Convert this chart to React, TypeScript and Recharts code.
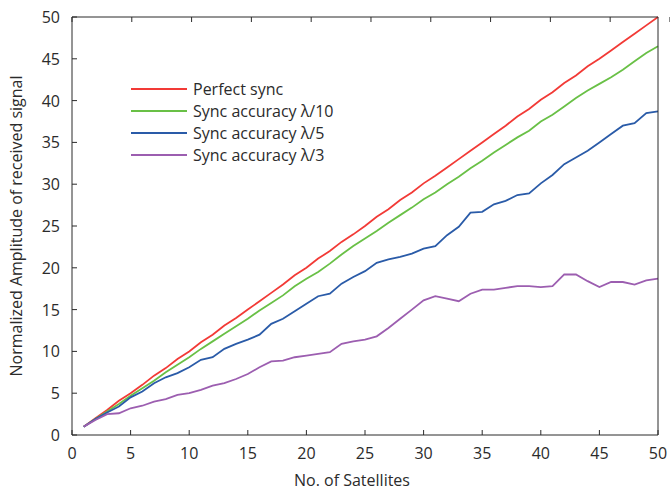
import { LineChart, Line, XAxis, YAxis, Legend } from 'recharts';

const satellites = [
  1, 2, 3, 4, 5, 6, 7, 8, 9, 10, 11, 12, 13, 14, 15, 16, 17, 18, 19, 20, 21, 22, 23, 24, 25,
  26, 27, 28, 29, 30, 31, 32, 33, 34, 35, 36, 37, 38, 39, 40, 41, 42, 43, 44, 45, 46, 47, 48, 49, 50,
];

const perfectSync = [
  1.0, 2.0, 3.0, 4.1, 5.0, 6.0, 7.1, 8.0, 9.1, 10.0, 11.1, 12.0, 13.1, 14.0, 15.0, 16.0, 17.0, 18.0, 19.1, 20.0,
  21.1, 22.0, 23.1, 24.0, 25.0, 26.1, 27.0, 28.1, 29.0, 30.1, 31.0, 32.0, 33.0, 34.0, 35.0, 36.0, 37.0, 38.1, 39.0, 40.1,
  41.0, 42.1, 43.0, 44.1, 45.0, 46.0, 47.0, 48.0, 49.0, 50.0,
];

const syncLambda10 = [
  1.0, 1.9, 2.8, 3.7, 4.7, 5.6, 6.5, 7.5, 8.4, 9.3, 10.3, 11.2, 12.1, 13.0, 13.9, 14.9, 15.8, 16.7, 17.8, 18.7,
  19.5, 20.5, 21.6, 22.6, 23.5, 24.4, 25.4, 26.3, 27.2, 28.2, 29.0, 30.0, 30.9, 31.9, 32.8, 33.8, 34.7, 35.6, 36.4, 37.5,
  38.3, 39.3, 40.3, 41.2, 42.0, 42.8, 43.7, 44.7, 45.7, 46.5,
];

const syncLambda5 = [
  1.0, 1.9, 2.7, 3.4, 4.5, 5.2, 6.2, 6.9, 7.4, 8.1, 9.0, 9.3, 10.3, 10.9, 11.4, 12.0, 13.3, 13.9, 14.8, 15.7,
  16.6, 16.9, 18.1, 18.9, 19.6, 20.6, 21.0, 21.3, 21.7, 22.3, 22.6, 23.9, 24.9, 26.6, 26.7, 27.6, 28.0, 28.7, 28.9, 30.1,
  31.1, 32.4, 33.2, 34.0, 35.0, 36.0, 37.0, 37.3, 38.5, 38.7,
];

const syncLambda3 = [
  1.0, 1.8, 2.5, 2.6, 3.2, 3.5, 4.0, 4.3, 4.8, 5.0, 5.4, 5.9, 6.2, 6.7, 7.3, 8.1, 8.8, 8.9, 9.3, 9.5,
  9.7, 9.9, 10.9, 11.2, 11.4, 11.8, 12.8, 13.9, 15.0, 16.1, 16.6, 16.3, 16.0, 16.9, 17.4, 17.4, 17.6, 17.8, 17.8, 17.7,
  17.8, 19.2, 19.2, 18.4, 17.7, 18.3, 18.3, 18.0, 18.5, 18.7,
];

const axisTicks = [0, 5, 10, 15, 20, 25, 30, 35, 40, 45, 50];

const series = [
  { key: 'perfect', name: 'Perfect sync', color: '#f23a36' },
  { key: 'l10', name: 'Sync accuracy \u03bb/10', color: '#69c046' },
  { key: 'l5', name: 'Sync accuracy \u03bb/5', color: '#2a5ba8' },
  { key: 'l3', name: 'Sync accuracy \u03bb/3', color: '#9c5eb0' },
];

const data = satellites.map((n, i) => ({
  n,
  perfect: perfectSync[i],
  l10: syncLambda10[i],
  l5: syncLambda5[i],
  l3: syncLambda3[i],
}));

const FONT = '"Open Sans", sans-serif';
const INK = '#2b2b2b';
const TICK_LEN = 5;

// bottom axis: label below, tick pointing up into the plot
const BottomTick = ({ x, y, payload }: any) => (
  <g>
    <line x1={x} x2={x} y1={y} y2={y - TICK_LEN} stroke={INK} />
    <text x={x} y={y + 24} textAnchor="middle" fill={INK} fontSize={16} fontFamily={FONT}>
      {payload.value}
    </text>
  </g>
);

const LeftTick = ({ x, y, payload }: any) => (
  <g>
    <line x1={x} x2={x + TICK_LEN} y1={y} y2={y} stroke={INK} />
    <text x={x - 12} y={y + 6} textAnchor="end" fill={INK} fontSize={16} fontFamily={FONT}>
      {payload.value}
    </text>
  </g>
);

// top / right axes only carry the frame line and inward ticks
const TopTick = ({ x, y }: any) => <line x1={x} x2={x} y1={y} y2={y + TICK_LEN} stroke={INK} />;
const RightTick = ({ x, y }: any) => <line x1={x} x2={x - TICK_LEN} y1={y} y2={y} stroke={INK} />;

const LegendBox = () => (
  <div style={{ fontFamily: FONT, fontSize: 16, color: INK, lineHeight: '22px' }}>
    {series.map((s) => (
      <div key={s.key} style={{ display: 'flex', alignItems: 'center', height: 22 }}>
        <svg width={56} height={4} style={{ marginRight: 6 }}>
          <line x1={0} x2={56} y1={2} y2={2} stroke={s.color} strokeWidth={2} />
        </svg>
        <span>{s.name}</span>
      </div>
    ))}
  </div>
);

export default function App() {
  return (
    <div style={{ width: 670, height: 490, background: '#fff' }}>
      <style>{'body{margin:0}'}</style>
      <LineChart width={670} height={490} data={data} margin={{ top: 16, right: 11, bottom: 0, left: 0 }}>
        <XAxis
          dataKey="n"
          type="number"
          domain={[0, 50]}
          ticks={axisTicks}
          interval={0}
          height={55}
          tickSize={0}
          tickMargin={0}
          tickLine={false}
          tick={<BottomTick />}
          axisLine={{ stroke: INK }}
          label={{
            value: 'No. of Satellites',
            position: 'insideBottom',
            offset: 4,
            dx: -13,
            style: { fontFamily: FONT, fontSize: 16, fill: INK },
          }}
        />
        <XAxis
          xAxisId="top"
          orientation="top"
          type="number"
          domain={[0, 50]}
          ticks={axisTicks}
          interval={0}
          height={1}
          tickSize={0}
          tickMargin={0}
          tickLine={false}
          tick={<TopTick />}
          axisLine={{ stroke: INK }}
        />
        <YAxis
          type="number"
          domain={[0, 50]}
          ticks={axisTicks}
          interval={0}
          width={72}
          tickSize={0}
          tickMargin={0}
          tickLine={false}
          tick={<LeftTick />}
          axisLine={{ stroke: INK }}
          label={{
            value: 'Normalized Amplitude of received signal',
            angle: -90,
            position: 'insideLeft',
            offset: 16,
            style: { fontFamily: FONT, fontSize: 16, fill: INK, textAnchor: 'middle' },
          }}
        />
        <YAxis
          yAxisId="right"
          orientation="right"
          type="number"
          domain={[0, 50]}
          ticks={axisTicks}
          interval={0}
          width={1}
          tickSize={0}
          tickMargin={0}
          tickLine={false}
          tick={<RightTick />}
          axisLine={{ stroke: INK }}
        />
        <Legend
          layout="vertical"
          verticalAlign="middle"
          align="center"
          content={<LegendBox />}
          wrapperStyle={{ left: 131, top: 78, width: 240, height: 88 }}
        />
        {series.map((s) => (
          <Line
            key={s.key}
            dataKey={s.key}
            name={s.name}
            stroke={s.color}
            strokeWidth={1.8}
            dot={false}
            isAnimationActive={false}
          />
        ))}
      </LineChart>
    </div>
  );
}
